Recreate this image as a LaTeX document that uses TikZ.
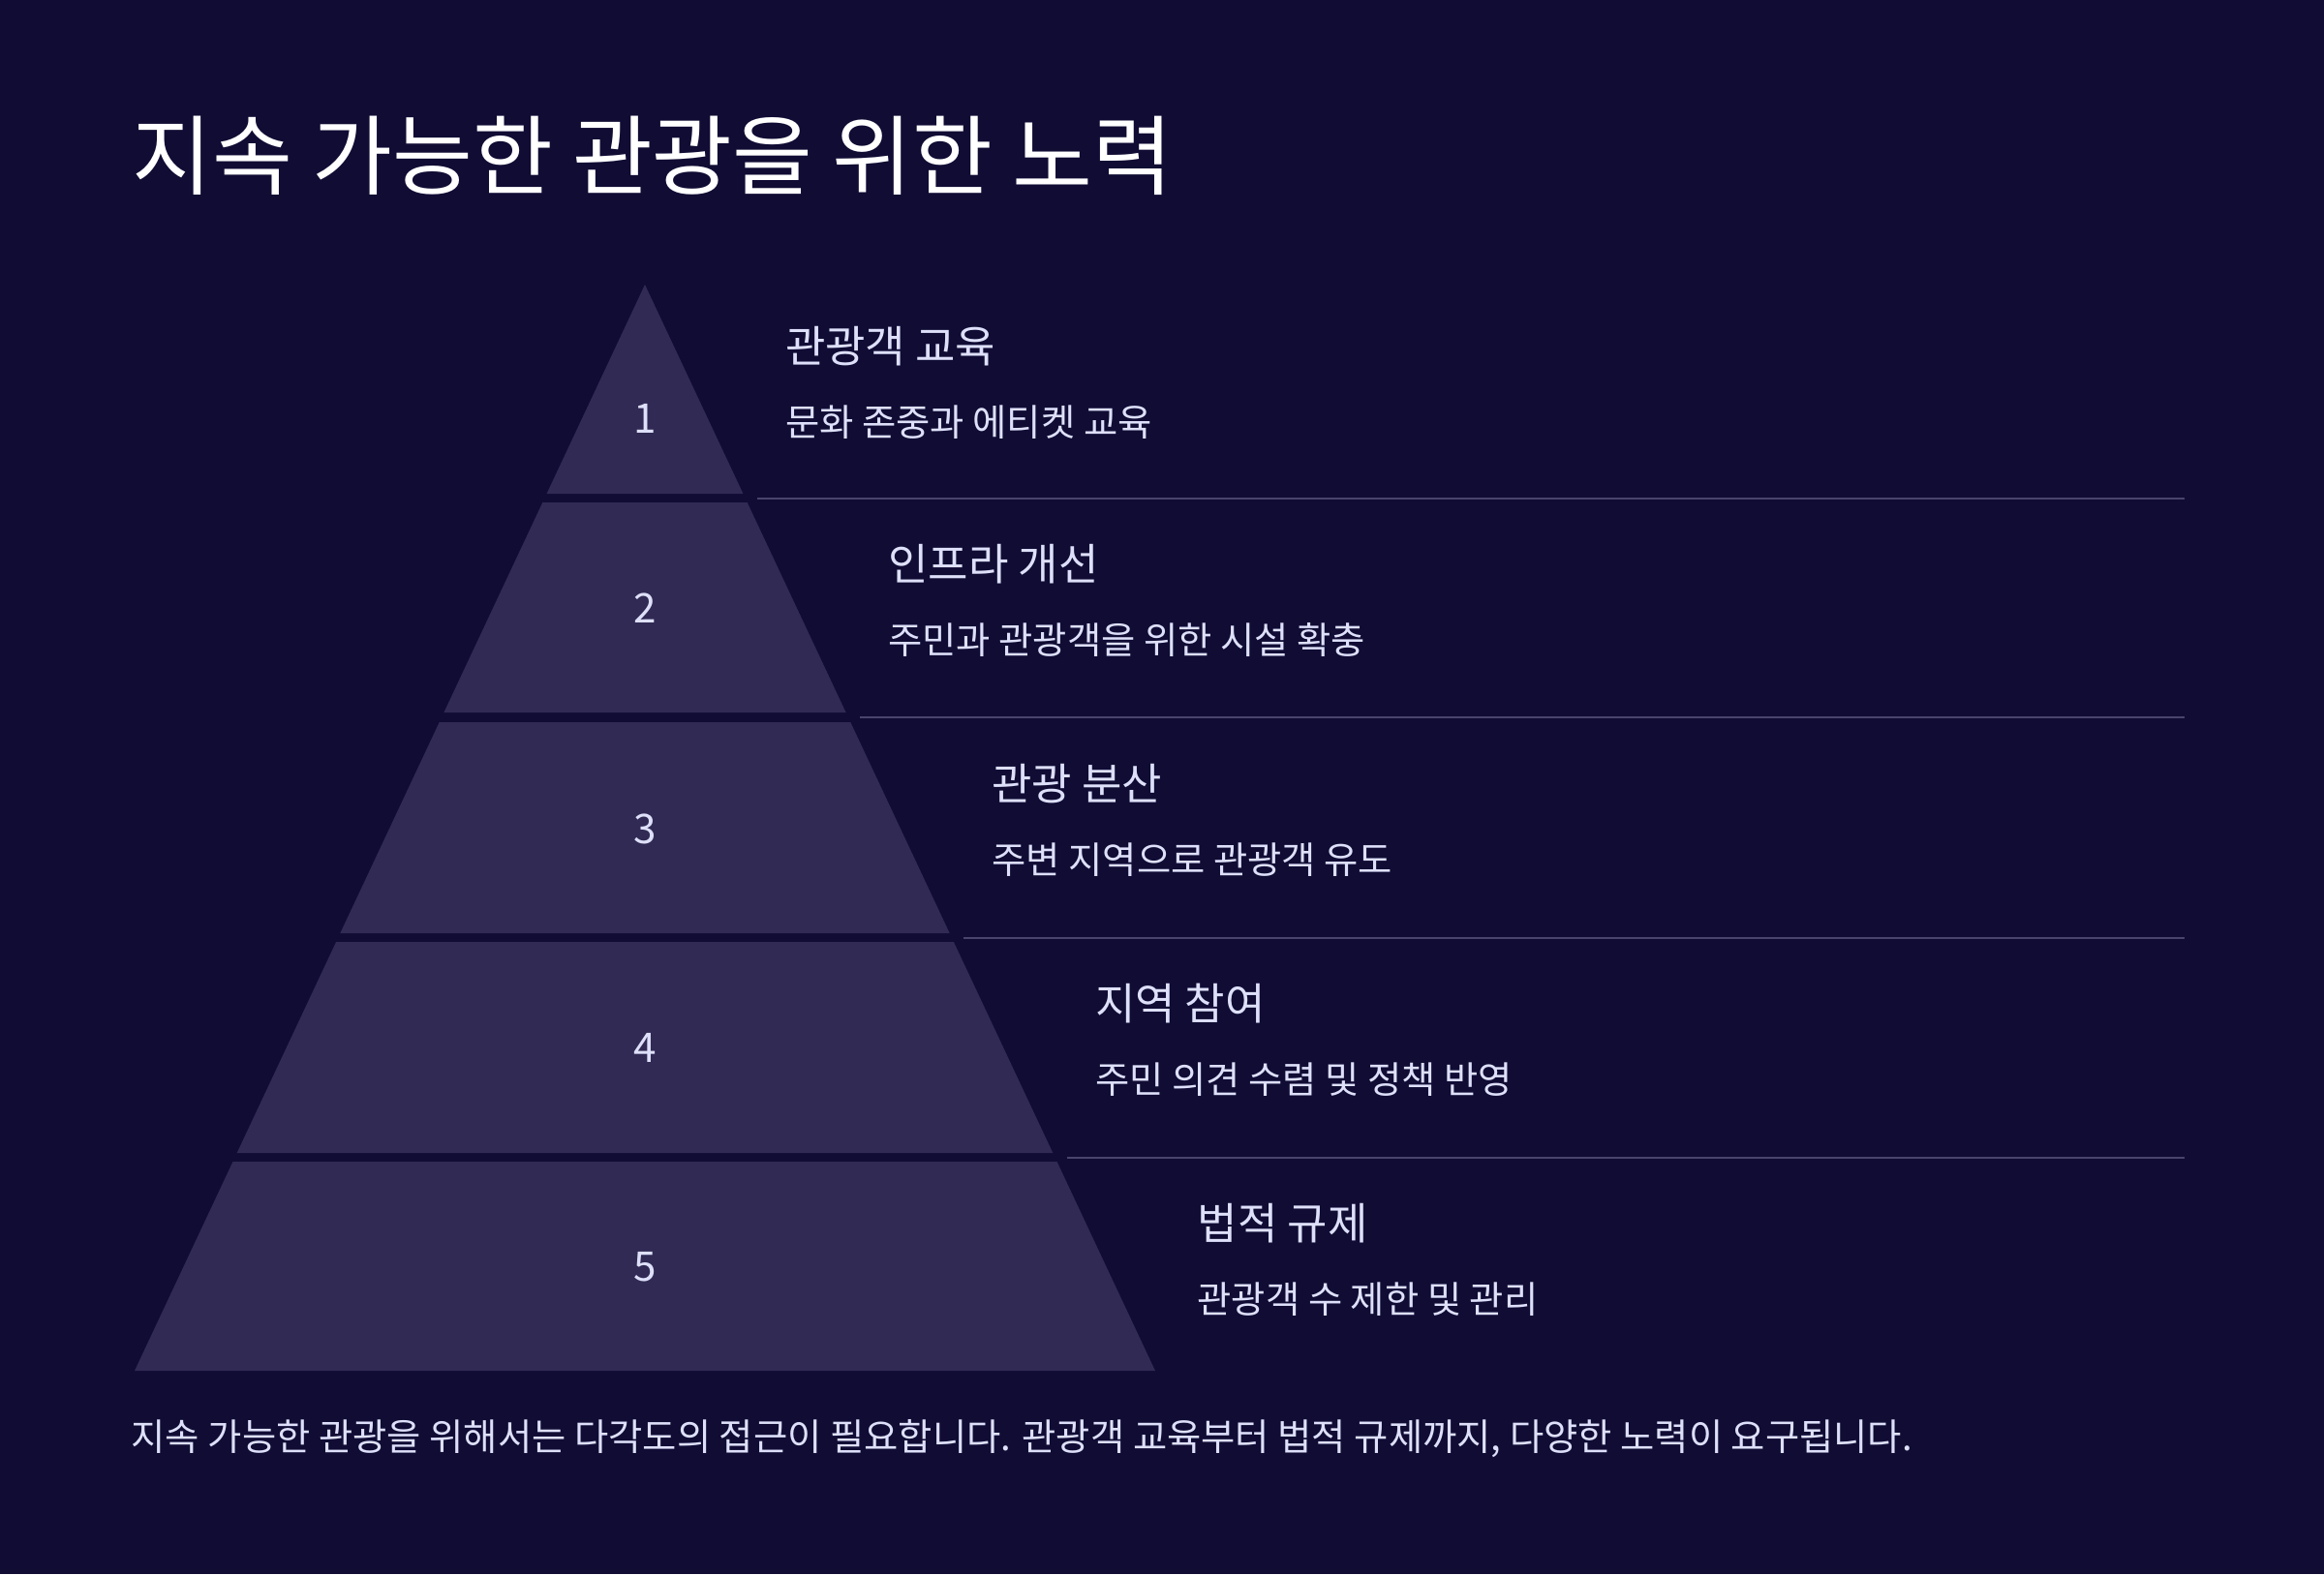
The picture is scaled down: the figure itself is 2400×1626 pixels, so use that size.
\documentclass[tikz,border=0pt]{standalone}
\usepackage{fontspec}
\setmainfont{Noto Sans CJK KR}
\usetikzlibrary{positioning,calc}
\definecolor{bgnavy}{RGB}{16,12,52}
\definecolor{tierfill}{RGB}{48,42,84}
\definecolor{rulegray}{RGB}{72,68,108}
\definecolor{lavender}{RGB}{222,224,250}

\begin{document}
\begin{tikzpicture}[x=0.01cm,y=-0.01cm,
  tier/.style={fill=tierfill},
  num/.style={text=lavender,inner sep=0,font=\fontsize{12}{14}\selectfont},
  head/.style={text=lavender,anchor=west,inner sep=0,font=\fontsize{12.8}{15}\selectfont},
  desc/.style={text=lavender,anchor=west,inner sep=0,font=\fontsize{10.9}{13}\selectfont},
  sep/.style={rulegray,line width=0.6pt}]
  % page and background
  \fill[bgnavy] (0,0) rectangle (2400,1626);
  \useasboundingbox (0,0) rectangle (2400,1626);
  \node[anchor=west,inner sep=0,white,font=\fontsize{25.6}{30}\selectfont] (title) at (136,161) {지속 가능한 관광을 위한 노력};
  % tiers: apex at (666,294), half width grows 0.4697 per unit down
  \foreach \i/\ta/\tb/\ny/\hd/\ds in {
    1/294/510/432/관광객 교육/문화 존중과 에티켓 교육,
    2/519/736/628/인프라 개선/주민과 관광객을 위한 시설 확충,
    3/746/964/856/관광 분산/주변 지역으로 관광객 유도,
    4/973/1191/1082/지역 참여/주민 의견 수렴 및 정책 반영,
    5/1200/1416/1309/법적 규제/관광객 수 제한 및 관리} {
    \pgfmathsetmacro{\wa}{0.4697*(\ta-294)}
    \pgfmathsetmacro{\wb}{0.4697*(\tb-294)}
    \pgfmathsetmacro{\ws}{0.4697*(\tb+5-294)+12}
    \fill[tier] ({666-\wa},\ta) coordinate (tl\i) -- ({666+\wa},\ta) coordinate (tr\i)
      -- ({666+\wb},\tb) coordinate (br\i) -- ({666-\wb},\tb) coordinate (bl\i) -- cycle;
    \node[num] (n\i) at (666,\ny) {\i};
    \node[head] (h\i) at ({666+\wb+43},{\ta+64}) {\hd};
    \node[desc] (d\i) at ({666+\wb+43},{\ta+142}) {\ds};
    \coordinate (sl\i) at ({666+\ws},{\tb+5});
    \coordinate (sr\i) at (2256,{\tb+5});
  }
  % rules between the text rows
  \foreach \i in {1,...,4}
    \draw[sep] (sl\i) -- (sr\i);
  \node[desc] (note) at (135,1486) {지속 가능한 관광을 위해서는 다각도의 접근이 필요합니다. 관광객 교육부터 법적 규제까지, 다양한 노력이 요구됩니다.};
\end{tikzpicture}
\end{document}
